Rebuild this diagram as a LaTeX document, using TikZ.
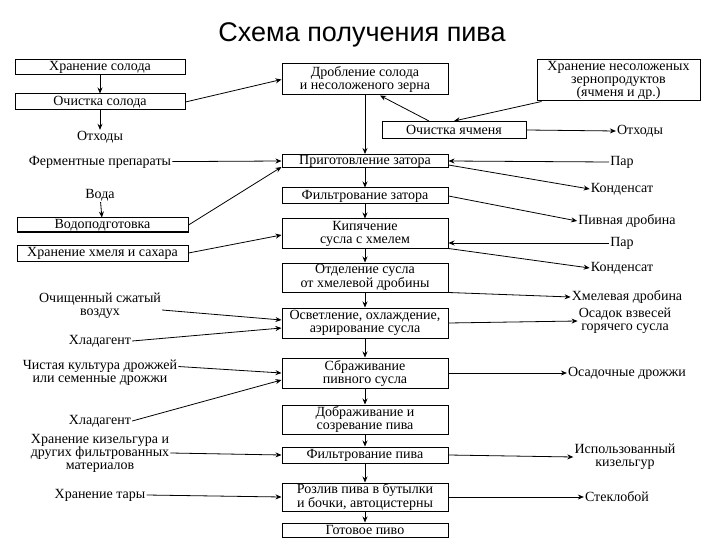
\documentclass[tikz,border=0pt]{standalone}
\usepackage{fontspec}
\setmainfont{Liberation Serif}
\newfontfamily\titlefont{Liberation Sans}
\usetikzlibrary{arrows.meta}
\begin{document}
\begin{tikzpicture}[x=1pt,y=-1pt,
  box/.style={draw,line width=1pt,inner sep=0pt,align=center,font=\fontsize{14}{13}\selectfont},
  lbl/.style={inner sep=1pt,align=center,font=\fontsize{14}{13}\selectfont},
  ar/.style={-{Stealth[length=6pt,width=5pt]},line width=0.8pt}]
\useasboundingbox[fill=white] (0,0) rectangle (720,540);
\node[font=\titlefont\fontsize{27}{30}\selectfont] (title) at (362,35) {Схема получения пива};
% central column
\node[box,minimum width=166pt,minimum height=31pt] (drob) at (365,79.5) {Дробление солода\\и несоложеного зерна};
\node[box,minimum width=144pt,minimum height=17pt] (ochy) at (454,130) {Очистка ячменя};
\node[box,minimum width=166pt,minimum height=13pt] (prig) at (365,161) {Приготовление затора};
\node[box,minimum width=166pt,minimum height=16pt] (filz) at (365,196) {Фильтрование затора};
\node[box,minimum width=166pt,minimum height=29pt] (kip) at (365,233.5) {Кипячение\\сусла с хмелем};
\node[box,minimum width=166pt,minimum height=29pt] (otd) at (365,277.5) {Отделение сусла\\от хмелевой дробины};
\node[box,minimum width=166pt,minimum height=30pt] (osv) at (365,323) {Осветление, охлаждение,\\аэрирование сусла};
\node[box,minimum width=166pt,minimum height=30pt] (sbr) at (365,373) {Сбраживание\\пивного сусла};
\node[box,minimum width=166pt,minimum height=29pt] (dob) at (365,419.5) {Дображивание и\\созревание пива};
\node[box,minimum width=166pt,minimum height=16pt] (filp) at (365,455) {Фильтрование пива};
\node[box,minimum width=166pt,minimum height=28pt] (roz) at (365,497) {Розлив пива в бутылки\\и бочки, автоцистерны};
\node[box,minimum width=166pt,minimum height=14pt] (got) at (365,530) {Готовое пиво};
% left
\node[box,minimum width=170pt,minimum height=15pt] (hrs) at (100,67.5) {Хранение солода};
\node[box,minimum width=170pt,minimum height=16pt] (ochs) at (100,102) {Очистка солода};
\node[lbl] (otx1) at (100,137) {Отходы};
\node[lbl] (ferm) at (100,162) {Ферментные препараты};
\node[lbl] (voda) at (100,195) {Вода};
\node[box,minimum width=171pt,minimum height=14pt] (vodp) at (102.5,225) {Водоподготовка};
\node[box,minimum width=171pt,minimum height=16pt] (hmel) at (102.5,253) {Хранение хмеля и сахара};
\node[lbl] (vozd) at (100,306) {Очищенный сжатый\\воздух};
\node[lbl] (hl1) at (100,341) {Хладагент};
\node[lbl] (kult) at (100,373) {Чистая культура дрожжей\\или семенные дрожжи};
\node[lbl] (hl2) at (100,421) {Хладагент};
\node[lbl] (kiz) at (100,453) {Хранение кизельгура и\\других фильтрованных\\материалов};
\node[lbl] (tara) at (100,495) {Хранение тары};
% right
\node[box,minimum width=163pt,minimum height=41pt] (hrn) at (618.5,80.5) {Хранение несоложеных\\зернопродуктов\\(ячменя и др.)};
\node[lbl] (otx2) at (640,131) {Отходы};
\node[lbl] (par1) at (622,162) {Пар};
\node[lbl] (kond1) at (622,189) {Конденсат};
\node[lbl] (pdrob) at (627,221) {Пивная дробина};
\node[lbl] (par2) at (622,243) {Пар};
\node[lbl] (kond2) at (622,268) {Конденсат};
\node[lbl] (hdrob) at (627,297) {Хмелевая дробина};
\node[lbl] (osad) at (625,321) {Осадок взвесей\\горячего сусла};
\node[lbl] (osdr) at (627,373) {Осадочные дрожжи};
\node[lbl] (ikiz) at (625,457) {Использованный\\кизельгур};
\node[lbl] (stek) at (617,497) {Стеклобой};
% central chain
\draw[ar] (drob) -- (prig);
\draw[ar] (prig) -- (filz);
\draw[ar] (filz) -- (kip);
\draw[ar] (kip) -- (otd);
\draw[ar] (otd) -- (osv);
\draw[ar] (osv) -- (sbr);
\draw[ar] (sbr) -- (dob);
\draw[ar] (dob) -- (filp);
\draw[ar] (filp) -- (roz);
\draw[ar] (roz) -- (got);
% left arrows
\draw[ar] (hrs) -- (ochs);
\draw[ar] (ochs) -- (otx1);
\draw[ar] (ochs.east) -- (drob.west);
\draw[ar] (ferm) -- (prig.west);
\draw[ar] (voda) -- (vodp);
\draw[ar] (vodp.east) -- ([yshift=-6pt]prig.west);
\draw[ar] (hmel.east) -- ([yshift=-1.5pt]kip.west);
\draw[ar] ([yshift=-4pt]vozd.east) -- ([yshift=3pt]osv.west);
\draw[ar] (hl1.east) -- ([yshift=-5pt]osv.west);
\draw[ar] ([yshift=6.5pt]kult.east) -- (sbr.west);
\draw[ar] (hl2.east) -- ([yshift=-7pt]sbr.west);
\draw[ar] (kiz.east) -- (filp.west);
\draw[ar] (tara.east) -- (roz.west);
% right arrows
\draw[ar] ([xshift=5pt]hrn.south west) -- (ochy.north);
\draw[ar] ([xshift=-25pt]ochy.north) -- ([xshift=15pt]drob.south);
\draw[ar] (ochy.east) -- (otx2.west);
\draw[ar] (par1.west) -- (prig.east);
\draw[ar] ([yshift=-4pt]prig.east) -- (kond1.west);
\draw[ar] (filz.east) -- (pdrob.west);
\draw[ar] (par2.west) -- ([yshift=-9.5pt]kip.east);
\draw[ar] (kip.south east) -- (kond2.west);
\draw[ar] (otd.south east) -- (hdrob.west);
\draw[ar] (osv.east) -- (osad.west);
\draw[ar] (sbr.east) -- (osdr.west);
\draw[ar] (filp.east) -- (ikiz.west);
\draw[ar] (roz.east) -- (stek.west);
\end{tikzpicture}
\end{document}
